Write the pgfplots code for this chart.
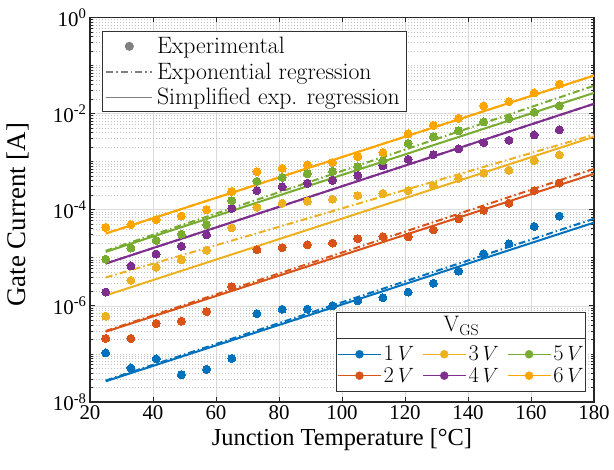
\documentclass[border=0pt]{standalone}
\usepackage{fontspec}
\newfontfamily\timesf{Liberation Serif}
\usepackage{pgfplots}
\pgfplotsset{compat=1.18}
\definecolor{c1}{RGB}{0,114,189}
\definecolor{c2}{RGB}{217,83,25}
\definecolor{c3}{RGB}{237,177,32}
\definecolor{c4}{RGB}{126,47,142}
\definecolor{c5}{RGB}{119,172,48}
\definecolor{c6}{RGB}{255,165,0}
\definecolor{lg}{RGB}{128,128,128}
\tikzset{dashdotm/.style={dash pattern=on 7bp off 3bp on 1.5bp off 3bp}}
\pgfplotsset{
  expt/.style={only marks, color=#1, mark=*, mark size=4bp, mark options={draw=#1, fill=#1, line width=0bp, solid}, forget plot},
  regd/.style={no marks, color=#1, line width=2bp, dashdotm, forget plot},
  regs/.style={no marks, color=#1, line width=2bp, solid, forget plot},
}
\begin{document}
\begin{tikzpicture}
\useasboundingbox (-90bp,-68bp) rectangle (524bp,402bp);
\begin{axis}[
  name=ax, at={(0,0)}, anchor=south west,
  scale only axis, width=504bp, height=384.5bp,
  xmin=20, xmax=180, ymin=1e-8, ymax=1,
  ymode=log,
  xtick={20,40,...,180},
  ytick={1e-8,1e-6,1e-4,1e-2,1},
  yticklabels={10\textsuperscript{-8},10\textsuperscript{-6},10\textsuperscript{-4},10\textsuperscript{-2},10\textsuperscript{0}},
  minor ytick={2e-8,3e-8,4e-8,5e-8,6e-8,7e-8,8e-8,9e-8,1e-7,2e-7,3e-7,4e-7,5e-7,6e-7,7e-7,8e-7,9e-7,
               2e-6,3e-6,4e-6,5e-6,6e-6,7e-6,8e-6,9e-6,1e-5,2e-5,3e-5,4e-5,5e-5,6e-5,7e-5,8e-5,9e-5,
               2e-4,3e-4,4e-4,5e-4,6e-4,7e-4,8e-4,9e-4,1e-3,2e-3,3e-3,4e-3,5e-3,6e-3,7e-3,8e-3,9e-3,
               2e-2,3e-2,4e-2,5e-2,6e-2,7e-2,8e-2,9e-2,1e-1,2e-1,3e-1,4e-1,5e-1,6e-1,7e-1,8e-1,9e-1},
  /pgf/number format/assume math mode=true,
  tick label style={font=\timesf\fontsize{21}{24}\selectfont},
  xlabel={Junction Temperature [°C]},
  ylabel={Gate Current [A]},
  xlabel style={font=\timesf\fontsize{24.5}{28}\selectfont, at={(axis description cs:0.5,0)}, anchor=center, yshift=-38bp},
  ylabel style={font=\timesf\fontsize{27}{30}\selectfont, at={(axis description cs:0,0.5)}, anchor=center, yshift=72bp, xshift=-5bp},
  grid=both,
  major grid style={line width=0.7bp, color=black!14},
  minor grid style={line width=0.7bp, color=black!24, dash pattern=on 0.7bp off 2.3bp},
  axis line style={line width=1.3bp, black!85},
  tick style={black!85, line width=0.8bp},
  major tick length=5bp, minor tick length=3bp,
  legend style={at={(axis description cs:0.024,0.964)}, anchor=north west, draw=black!80, line width=1bp,
    font=\fontsize{23.8}{27}\selectfont, inner xsep=3bp, inner ysep=3bp, row sep=2.5bp,
    nodes={inner xsep=4bp, inner ysep=2.5bp}},
  legend cell align=left,
]
\addlegendimage{legend image code/.code={\fill[lg] (23bp,0bp) circle (4bp);}}
\addlegendentry{Experimental}
\addlegendimage{legend image code/.code={\draw[lg, line width=1.5bp, dashdotm] (0bp,0bp) -- (46bp,0bp);}}
\addlegendentry{Exponential regression}
\addlegendimage{legend image code/.code={\draw[lg, line width=1.5bp] (0bp,0bp) -- (46bp,0bp);}}
\addlegendentry{Simplified exp. regression}

% 1 V
\addplot[regd=c1] coordinates {(25,2.8e-8) (180,6.5e-5)};
\addplot[regs=c1] coordinates {(25,2.7e-8) (180,5.4e-5)};
\addplot[expt=c1] coordinates {(25,1.05e-7) (33,5.1e-8) (41,7.9e-8) (49,3.7e-8) (57,4.8e-8) (65,8.1e-8) (73,6.9e-7) (81,8.5e-7) (89,8.6e-7) (97,1.0e-6) (105,1.28e-6) (113,1.48e-6) (121,1.94e-6) (129,2.96e-6) (137,5.3e-6) (145,1.21e-5) (153,1.96e-5) (161,4.5e-5) (169,7.4e-5)};
% 2 V
\addplot[regd=c2] coordinates {(25,3.0e-7) (180,7.1e-4)};
\addplot[regs=c2] coordinates {(25,2.9e-7) (180,5.6e-4)};
\addplot[expt=c2] coordinates {(25,2.1e-7) (33,2.1e-7) (41,4.3e-7) (49,4.8e-7) (57,7.6e-7) (65,2.5e-6) (73,1.47e-5) (81,1.63e-5) (89,1.86e-5) (97,2.03e-5) (105,2.5e-5) (113,2.74e-5) (121,2.74e-5) (129,3.8e-5) (137,6.5e-5) (145,9.8e-5) (153,1.37e-4) (161,2.5e-4) (169,3.6e-4)};
% 3 V
\addplot[regd=c3] coordinates {(25,3.9e-6) (180,3.65e-3)};
\addplot[regs=c3] coordinates {(25,1.65e-6) (180,3.3e-3)};
\addplot[expt=c3] coordinates {(25,6.1e-7) (33,3.4e-6) (41,6.4e-6) (49,9.1e-6) (57,1.44e-5) (65,4.2e-5) (73,1.13e-4) (81,1.37e-4) (89,1.51e-4) (97,1.66e-4) (105,1.98e-4) (113,2.18e-4) (121,2.5e-4) (129,3.2e-4) (137,4.5e-4) (145,5.8e-4) (153,6.6e-4) (161,1.05e-3) (169,1.38e-3)};
% 4 V
\addplot[regd=c4] coordinates {(25,7.6e-6) (180,1.6e-2)};
\addplot[regs=c4] coordinates {(25,7.6e-6) (180,1.6e-2)};
\addplot[expt=c4] coordinates {(25,1.94e-6) (33,6.8e-6) (41,1.2e-5) (49,1.74e-5) (57,3.0e-5) (65,1.07e-4) (73,2.5e-4) (81,3.0e-4) (89,3.55e-4) (97,4.1e-4) (105,5.2e-4) (113,8.2e-4) (121,1.12e-3) (129,1.4e-3) (137,1.85e-3) (145,2.5e-3) (153,2.8e-3) (161,3.6e-3) (169,4.6e-3)};
% 5 V
\addplot[regd=c5] coordinates {(25,1.4e-5) (180,3.8e-2)};
\addplot[regs=c5] coordinates {(25,1.33e-5) (180,2.7e-2)};
\addplot[expt=c5] coordinates {(25,9.4e-6) (33,1.6e-5) (41,2.3e-5) (49,3.1e-5) (57,4.9e-5) (65,1.55e-4) (73,3.9e-4) (81,4.7e-4) (89,5.6e-4) (97,6.3e-4) (105,7.9e-4) (113,1.05e-3) (121,2.4e-3) (129,3.3e-3) (137,4.4e-3) (145,6.7e-3) (153,7.9e-3) (161,1.07e-2) (169,1.45e-2)};
% 6 V
\addplot[regd=c6] coordinates {(25,3.2e-5) (180,6.2e-2)};
\addplot[regs=c6] coordinates {(25,3.2e-5) (180,6.2e-2)};
\addplot[expt=c6] coordinates {(25,4.3e-5) (33,4.9e-5) (41,6.2e-5) (49,7.4e-5) (57,1.0e-4) (65,2.4e-4) (73,6.2e-4) (81,7.3e-4) (89,8.6e-4) (97,9.6e-4) (105,1.28e-3) (113,1.55e-3) (121,3.8e-3) (129,5.7e-3) (137,8.0e-3) (145,1.45e-2) (153,1.78e-2) (161,2.7e-2) (169,4.1e-2)};
\end{axis}

\begin{axis}[
  at={(0,0)}, anchor=south west,
  scale only axis, width=504bp, height=384.5bp,
  xmin=0, xmax=1, ymin=0, ymax=1, hide axis,
  legend columns=3,
  legend style={at={(axis description cs:0.737,0.0962)}, anchor=center, draw=none, fill=none,
    font=\fontsize{22.5}{25}\selectfont, inner sep=0bp, row sep=1bp,
    nodes={inner xsep=2bp, inner ysep=2bp},
    /tikz/every even column/.append style={column sep=6bp}},
  legend cell align=left,
]
\fill[white] (axis description cs:0.490,0.0286) rectangle (axis description cs:0.984,0.2315);
\draw[black!80, line width=1bp] (axis description cs:0.490,0.0286) rectangle (axis description cs:0.984,0.2315);
\draw[black!80, line width=1bp] (axis description cs:0.490,0.164) -- (axis description cs:0.984,0.164);
\node at (axis description cs:0.737,0.198) {\fontsize{22.5}{25}\selectfont V$_{\mathrm{GS}}$};
\addlegendimage{legend image code/.code={\draw[c1, line width=1.5bp] (0bp,0bp) -- (43bp,0bp); \fill[c1] (21.5bp,0bp) circle (4bp);}}
\addlegendentry{1\,$V$}
\addlegendimage{legend image code/.code={\draw[c3, line width=1.5bp] (0bp,0bp) -- (43bp,0bp); \fill[c3] (21.5bp,0bp) circle (4bp);}}
\addlegendentry{3\,$V$}
\addlegendimage{legend image code/.code={\draw[c5, line width=1.5bp] (0bp,0bp) -- (43bp,0bp); \fill[c5] (21.5bp,0bp) circle (4bp);}}
\addlegendentry{5\,$V$}
\addlegendimage{legend image code/.code={\draw[c2, line width=1.5bp] (0bp,0bp) -- (43bp,0bp); \fill[c2] (21.5bp,0bp) circle (4bp);}}
\addlegendentry{2\,$V$}
\addlegendimage{legend image code/.code={\draw[c4, line width=1.5bp] (0bp,0bp) -- (43bp,0bp); \fill[c4] (21.5bp,0bp) circle (4bp);}}
\addlegendentry{4\,$V$}
\addlegendimage{legend image code/.code={\draw[c6, line width=1.5bp] (0bp,0bp) -- (43bp,0bp); \fill[c6] (21.5bp,0bp) circle (4bp);}}
\addlegendentry{6\,$V$}
\end{axis}
\end{tikzpicture}
\end{document}
